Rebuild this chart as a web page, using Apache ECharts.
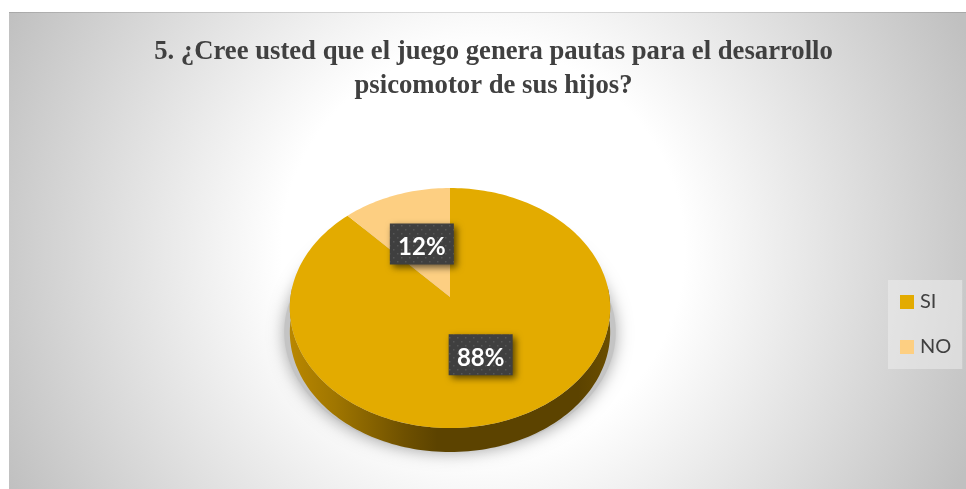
<!DOCTYPE html>
<html><head><meta charset="utf-8">
<style>html,body{margin:0;padding:0;background:#fff}#c{width:966px;height:489px}</style>
<script src="https://cdn.jsdelivr.net/npm/echarts@6/dist/echarts.min.js"></script>
</head><body><div id="c"></div>
<script>
var categories = ['SI', 'NO'];
var shares = [88, 12];
var colors = ['#e3ab00', '#fdcf82'];
var titleLines = ['5. ¿Cree usted que el juego genera pautas para el desarrollo', 'psicomotor de sus hijos?'];

var total = shares.reduce(function (a, b) { return a + b; }, 0);
// Perspective view of a flat disc: unit circle -> screen
var CX = 450, CY = 297, RX = 159.5, RY = 119, K = 0.0917, DEPTH = 24;
function project(frac, r) {
  var t = frac * 2 * Math.PI, u = Math.sin(t) * r, v = Math.cos(t) * r, d = 1 + K * v;
  return [CX + RX * u / d, CY - RY * v / d];
}
function arc(a, b) {
  var pts = [], n = Math.max(2, Math.ceil(Math.abs(b - a) * 240));
  for (var i = 0; i <= n; i++) pts.push(project(a + (b - a) * i / n, 1));
  return pts;
}
function wallPoints() {
  // the near rim of the disc, extruded downwards
  var top = arc(0.235, 0.765), bottom = top.map(function (p) { return [p[0], p[1] + DEPTH]; }).reverse();
  return top.concat(bottom);
}
function castPoints() {
  // the disc's outline at the foot of the wall, slightly enlarged: it throws the soft shadow
  return arc(0, 1).map(function (p) { return [CX + (p[0] - CX) * 1.035, p[1] + DEPTH]; });
}
var dots = document.createElement('canvas');
dots.width = 8; dots.height = 8;
(function () {
  var g = dots.getContext('2d');
  g.fillStyle = '#3f3f3f'; g.fillRect(0, 0, 8, 8);
  g.fillStyle = '#565656'; g.fillRect(1, 1, 1.5, 1.5); g.fillRect(5, 5, 1.5, 1.5);
})();

function slice(index) {
  return function (params, api) {
    var value = api.value(0), before = 0;
    for (var i = 0; i < index; i++) before += shares[i];
    var a = before / total, b = (before + value) / total;
    var children = [];
    if (index === 0) {
      children.push({
        type: 'polygon', z2: 0, shape: { points: castPoints() },
        style: { fill: '#c4c4c4', shadowBlur: 16, shadowOffsetY: 1, shadowColor: 'rgba(0,0,0,0.35)' }
      });
      children.push({
        type: 'polygon', z2: 1, shape: { points: wallPoints() },
        style: {
          fill: new echarts.graphic.LinearGradient(0, 0, 1, 0, [
            { offset: 0, color: '#b98700' }, { offset: 0.14, color: '#a07600' },
            { offset: 0.36, color: '#6e5000' }, { offset: 0.46, color: '#5c4300' }, { offset: 0.9, color: '#5c4300' }, { offset: 1, color: '#6b4e00' }
          ])
        }
      });
    }
    children.push({
      type: 'polygon', z2: 2 + index, shape: { points: [[CX, CY]].concat(arc(a, b)) },
      style: { fill: colors[index] }
    });
    var m = project((a + b) / 2, 0.5), w = 64, h = 41;
    children.push({
      type: 'rect', z2: 10, shape: { x: m[0] - w / 2, y: m[1] - h / 2, width: w, height: h },
      style: { fill: { image: dots, repeat: 'repeat' }, shadowBlur: 7, shadowOffsetX: 3, shadowOffsetY: 3, shadowColor: 'rgba(0,0,0,0.6)' }
    });
    children.push({
      type: 'text', z2: 11, x: m[0], y: m[1] + 3,
      style: {
        text: Math.round(value / total * 100) + '%', fill: '#fff', align: 'center', verticalAlign: 'middle',
        font: 'bold 24px Lato, "Open Sans", sans-serif'
      }
    });
    return { type: 'group', children: children };
  };
}

var chart = echarts.init(document.getElementById('c'), null, { renderer: 'canvas' });
chart.setOption({
  animation: false,
  backgroundColor: '#fff',
  title: {
    text: titleLines.join('\n'), left: 488.5, top: 30, textAlign: 'center',
    textStyle: { fontFamily: '"Liberation Serif"', fontWeight: 'bold', fontSize: 26.7, lineHeight: 34, color: '#404040' }
  },
  legend: {
    data: categories, orient: 'vertical', left: 888, top: 280, icon: 'rect',
    itemWidth: 14, itemHeight: 14, itemGap: 25, padding: [12, 11, 12, 12],
    backgroundColor: 'rgba(240,240,240,0.5)',
    textStyle: { fontFamily: 'Lato', fontSize: 20, color: '#404040', padding: [0, 0, 0, 1] }
  },
  graphic: [
    { type: 'rect', z: -2, shape: { x: 9, y: 12, width: 957, height: 477 }, style: {
      fill: new echarts.graphic.RadialGradient(483, 250, 530, [
        { offset: 0, color: '#ffffff' }, { offset: 0.38, color: '#ffffff' }, { offset: 1, color: '#c0c0c0' }
      ], true) } },
    { type: 'rect', z: -1, shape: { x: 9, y: 12, width: 957, height: 1 }, style: { fill: 'rgba(0,0,0,0.12)' } }
  ],
  series: categories.map(function (name, i) {
    return { type: 'custom', name: name, coordinateSystem: 'none', silent: true,
      itemStyle: { color: colors[i] }, data: [[shares[i]]], renderItem: slice(i) };
  })
});
</script></body></html>
